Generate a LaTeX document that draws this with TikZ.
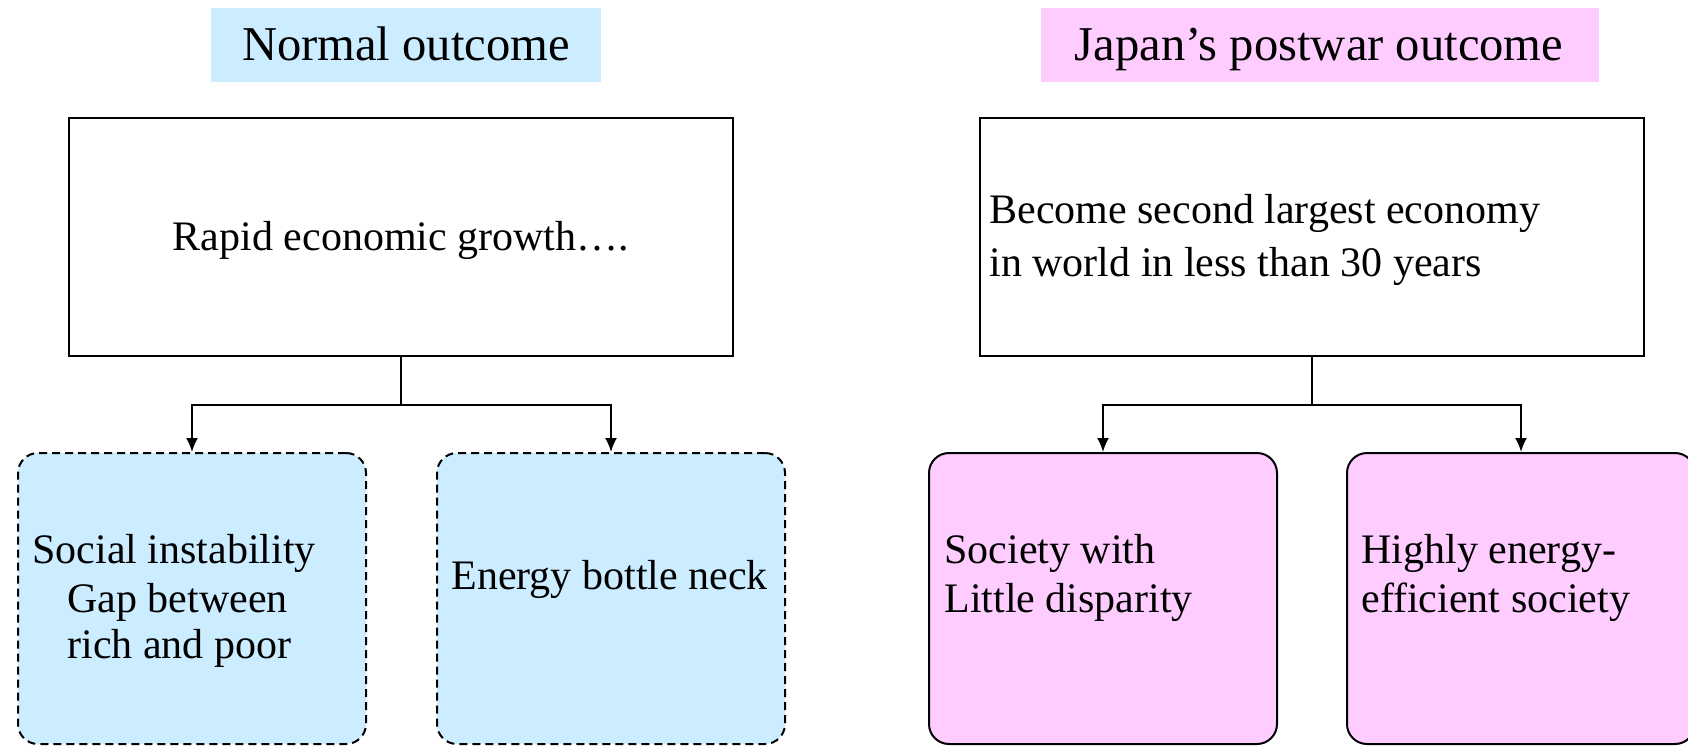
\documentclass[tikz,border=0pt]{standalone}
\usepackage{fontspec}
\setmainfont{Liberation Serif}
\usetikzlibrary{arrows.meta}
\definecolor{lblue}{RGB}{204,236,255}
\definecolor{lpink}{RGB}{255,204,255}
\tikzset{
  lbl/.style={inner sep=0pt, font=\fontsize{21}{25}\selectfont},
  ttl/.style={inner sep=0pt, font=\fontsize{24.3}{28}\selectfont},
  titlebox/.style={rectangle, inner sep=0pt, minimum height=37pt},
  topbox/.style={rectangle, draw, line width=1pt, inner sep=0pt, minimum width=332pt, minimum height=119pt},
  outbox/.style={rectangle, line width=1pt, inner sep=0pt, rounded corners=10pt, minimum width=174pt, minimum height=145.5pt},
  normalbox/.style={outbox, draw, fill=lblue, dash pattern=on 4pt off 2.5pt},
  japanbox/.style={outbox, draw, fill=lpink},
  conn/.style={line width=1pt},
  arr/.style={line width=1pt, -{Latex[length=7pt,width=6pt]}}
}
\begin{document}
\begin{tikzpicture}[x=0.5pt,y=-0.5pt]
\useasboundingbox (0,0) rectangle (1688,746);
\clip (0,0) rectangle (1688,746);
% titles
\node[titlebox, fill=lblue, minimum width=195pt] (t1) at (406,45) {};
\node[titlebox, fill=lpink, minimum width=279pt] (t2) at (1320,45) {};
\node[ttl, anchor=base] (t1txt) at (406,60) {Normal outcome};
\node[ttl, anchor=base] (t2txt) at (1319,60) {Japan’s postwar outcome};
% top boxes
\node[topbox] (top1) at (401,237) {};
\node[topbox] (top2) at (1312,237) {};
\node[lbl, anchor=base] (top1txt) at (401,250) {Rapid economic growth….};
\node[lbl, anchor=base west] (top2a) at (989,223) {Become second largest economy};
\node[lbl, anchor=base west] (top2b) at (989,276) {in world in less than 30 years};
% bottom boxes
\node[normalbox] (b1) at (192,598.5) {};
\node[normalbox] (b2) at (611,598.5) {};
\node[japanbox] (b3) at (1103,598.5) {};
\node[japanbox] (b4) at (1521,598.5) {};
\node[lbl, anchor=base west] (b1a) at (32,563) {Social instability};
\node[lbl, anchor=base west] (b1b) at (67,612) {Gap between};
\node[lbl, anchor=base west] (b1c) at (67,658) {rich and poor};
\node[lbl, anchor=base west] (b2a) at (451,589) {Energy bottle neck};
\node[lbl, anchor=base west] (b3a) at (944,563) {Society with};
\node[lbl, anchor=base west] (b3b) at (944,612) {Little disparity};
\node[lbl, anchor=base west] (b4a) at (1361,563) {Highly energy-};
\node[lbl, anchor=base west] (b4b) at (1361,612) {efficient society};
% connectors
\draw[conn] (top1.south) -- ++(0,48) coordinate (j1);
\draw[arr] (j1) -| (b1.north);
\draw[arr] (j1) -| (b2.north);
\draw[conn] (top2.south) -- ++(0,48) coordinate (j2);
\draw[arr] (j2) -| (b3.north);
\draw[arr] (j2) -| (b4.north);
\end{tikzpicture}
\end{document}
